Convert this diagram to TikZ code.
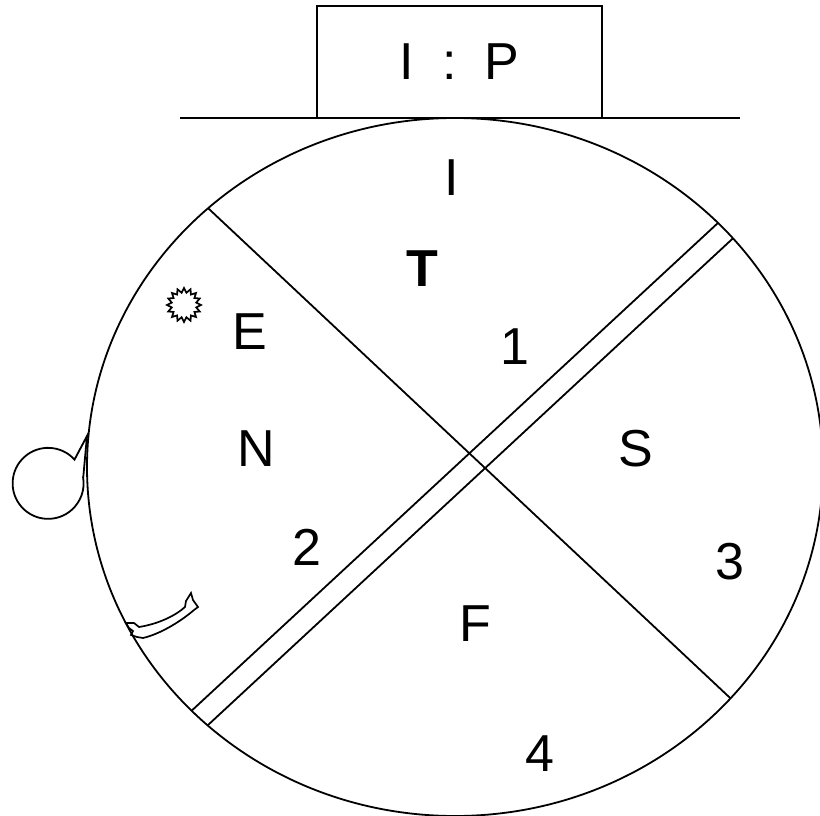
\documentclass[tikz,border=0pt]{standalone}
\usepackage{fontspec}
\setmainfont{Liberation Sans}
\usetikzlibrary{calc,positioning}

\begin{document}
\begin{tikzpicture}[x=1pt,y=-1pt,line join=miter,
    outline/.style={line width=1.8pt},
    fineline/.style={line width=1.7pt},
    lbl/.style={anchor=base,inner sep=0pt,font=\fontsize{52}{60}\selectfont}]
            %--- Page frame ---
            \useasboundingbox (0,0) rectangle (820,816);

            %--- Box on top and the ground line ---
            \node[draw,outline,minimum width=285pt,minimum height=112pt,inner sep=0pt,
                  font=\fontsize{52}{60}\selectfont] (ipbox) at (459.5,62)
                  {I\hspace{0.54em}:\hspace{0.54em}P};
            \draw[outline] (180,118) -- (740,118);

            %--- Big disc ---
            \draw[outline] (455,467) ellipse [x radius=368pt, y radius=349pt];

            %--- Dividers, cut at the rim ---
            \begin{scope}
              \clip (455,467) ellipse [x radius=368pt, y radius=349pt];
              \draw[outline] (190,191.2) -- (760,726);   % single line
              \draw[outline] (760,184) -- (160,740);     % double line, upper
              \draw[outline] (770,204) -- (180,751);     % double line, lower
            \end{scope}

            %--- Speech bubble on the left ---
            \draw[outline] (83.3,476.7) -- (87,436) -- (74.5,459.6)
              arc[start angle=42, end angle=370, radius=35.5pt] -- cycle;

            %--- Small star ---
            \begin{scope}[shift={(184,305)}]
              \draw[fineline] (0:17) \foreach \i in {1,...,31}
                { -- (\i*11.25:{17-4.5*mod(\i,2)}) } -- cycle;
            \end{scope}

            %--- Ribbon ---
            \draw[fineline] (126,623) -- (134,623) -- (139,627)
              .. controls (158,624) and (175,616) .. (185,607)
              -- (186,601) -- (191,593) -- (193,600) -- (198,607) -- (194,610)
              .. controls (180,622) and (160,634) .. (143,638)
              -- (137,637) -- (131,635) -- (133,631) -- (129,628) -- cycle;

            %--- Labels ---
            \node[lbl] (topI)  at (452,195) {I};
            \node[lbl] (tee)   at (422,286) {\bfseries T};
            \node[lbl] (one)   at (515,364) {1};
            \node[lbl] (ee)    at (250,349) {E};
            \node[lbl] (en)    at (256,466) {N};
            \node[lbl] (es)    at (636,466) {S};
            \node[lbl] (two)   at (307,565) {2};
            \node[lbl] (three) at (730,579) {3};
            \node[lbl] (ef)    at (475,641) {F};
            \node[lbl] (four)  at (540,771) {4};
          \end{tikzpicture}
\end{document}
